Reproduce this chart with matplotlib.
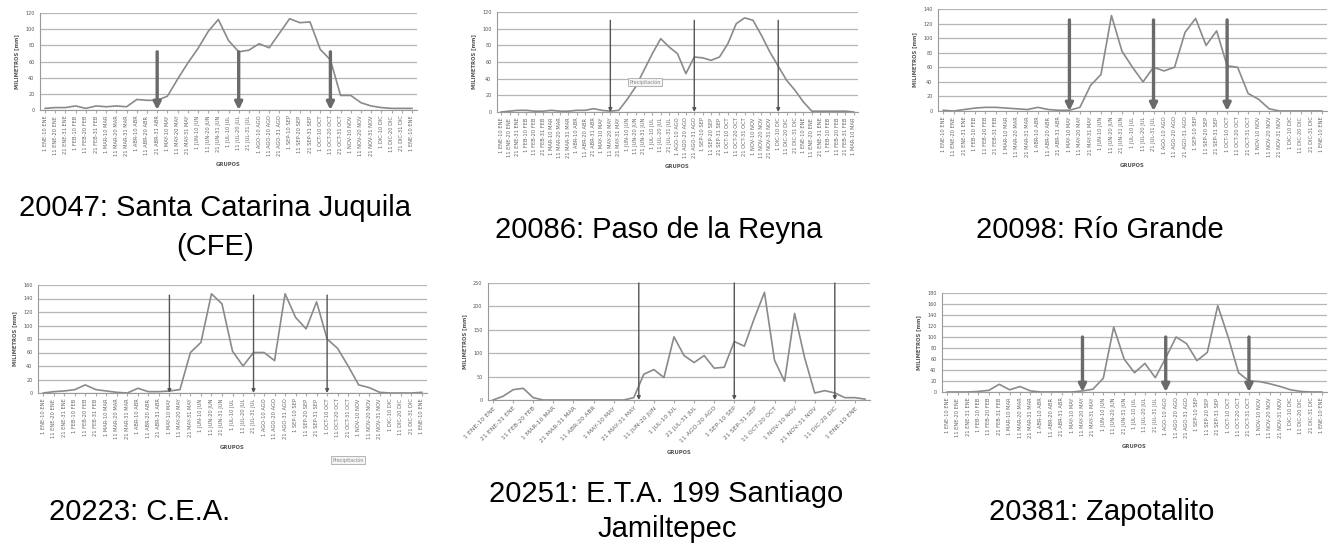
import matplotlib
matplotlib.use("Agg")
import matplotlib.pyplot as plt
import numpy as np

W, H = 1328, 557

# meses para las etiquetas de decenas
MESES = ["ENE", "FEB", "MAR", "ABR", "MAY", "JUN", "JUL", "AGO", "SEP", "OCT", "NOV", "DIC"]

# 20047: Santa Catarina Juquila (CFE)
juquila = [2, 3, 3, 5, 2, 5, 4, 5, 4, 13, 12, 12, 17, 38, 58, 76, 97, 112, 86,
           72, 74, 82, 77, 95, 113, 108, 109, 75, 62, 18, 18, 9, 5, 3, 2, 2, 2]
juquila_flechas = [11, 19, 28]

# 20086: Paso de la Reyna
reyna = [0, 1, 2, 2, 1, 1, 2, 1, 1, 2, 2, 4, 2, 1, 2, 15, 30, 50, 70, 88, 78, 70,
         46, 66, 65, 62, 66, 82, 106, 113, 110, 92, 72, 55, 38, 26, 12, 1, 1, 1,
         1, 1, 0]
reyna_flechas = [13, 23, 33]

# 20098: Rio Grande
rio_grande = [1, 0, 2, 4, 5, 5, 4, 3, 2, 5, 2, 1, 1, 5, 35, 50, 131, 82, 60, 40,
              60, 55, 60, 108, 127, 90, 110, 62, 60, 24, 16, 3, 0, 0, 0, 0, 0]
rio_grande_flechas = [12, 20, 27]

# 20223: C.E.A.
cea = [0, 2, 3, 5, 12, 5, 3, 1, 0, 7, 2, 2, 3, 5, 60, 75, 147, 132, 62, 40, 60,
       60, 48, 147, 112, 95, 135, 80, 66, 40, 12, 8, 1, 0, 0, 0, 1]
cea_flechas = [12, 20, 27]

# 20251: E.T.A. 199 Santiago Jamiltepec
jamiltepec = [0, 8, 22, 25, 5, 0, 0, 0, 0, 0, 0, 0, 0, 0, 5, 55, 65, 48, 135, 95,
              80, 95, 68, 70, 125, 115, 175, 230, 85, 40, 185, 90, 15, 20, 15, 5,
              5, 2]
jamiltepec_flechas = [14.5, 24, 34]

# 20381: Zapotalito
zapotalito = [0, 0, 0, 1, 3, 14, 4, 10, 2, 0, 0, 0, 0, 2, 5, 25, 118, 60, 35, 52,
              26, 62, 100, 88, 57, 72, 157, 100, 35, 20, 19, 15, 10, 4, 1, 0, 0]
zapotalito_flechas = [13, 21, 29]


def decenas(n):
    labels = []
    for k in range(n):
        mes = MESES[(k // 3) % 12]
        d1 = [1, 11, 21][k % 3]
        d2 = [10, 20, 31][k % 3]
        labels.append(str(d1) + " " + mes + "-" + str(d2) + " " + mes)
    return labels


def panel(fig, box, valores, ymax, ystep, flechas, ftop, gruesa, rot=90, cada=1):
    x0, y0, x1, y1 = box
    ax = fig.add_axes([x0 / W, 1 - y1 / H, (x1 - x0) / W, (y1 - y0) / H])
    n = len(valores)
    xs = np.arange(n)
    ax.plot(xs, valores, color="#8a8a8a", lw=1.2, zorder=3)
    ax.set_xlim(-0.5, n - 0.5)
    ax.set_ylim(0, ymax)
    ax.set_yticks(np.arange(0, ymax + 1, ystep))
    ax.yaxis.grid(True, color="#b5b5b5", lw=0.9)
    ax.set_axisbelow(True)
    for s in ["top", "right"]:
        ax.spines[s].set_visible(False)
    ax.spines["left"].set_color("#9a9a9a")
    ax.spines["bottom"].set_color("#9a9a9a")
    ax.tick_params(axis="y", labelsize=3.5, labelcolor="#555555", length=0, pad=4)
    etiquetas = decenas(n)
    ax.set_xticks(xs[::cada])
    if rot == 90:
        ax.set_xticklabels(etiquetas[::cada], rotation=90, fontsize=3.7, color="#666666")
    else:
        ax.set_xticklabels(etiquetas[::cada], rotation=45, ha="right",
                           rotation_mode="anchor", fontsize=4.4, color="#666666")
    ax.tick_params(axis="x", length=2, color="#aaaaaa", pad=2)
    ax.set_xlabel("GRUPOS", fontsize=3.8, color="#555555", fontweight="bold", labelpad=4)
    ax.set_ylabel("MILIMETROS [mm]", fontsize=3.8, color="#555555", fontweight="bold",
                  labelpad=4)
    for f in flechas:
        if gruesa:
            props = dict(arrowstyle="-|>", color="#6a6a6a", lw=2.4, mutation_scale=11,
                         shrinkA=0, shrinkB=0)
        else:
            props = dict(arrowstyle="-|>", color="#555555", lw=1.0, mutation_scale=5,
                         shrinkA=0, shrinkB=0)
        ax.annotate("", xy=(f, 0), xytext=(f, ftop), arrowprops=props, zorder=4)
    return ax


fig = plt.figure(figsize=(W / 100, H / 100), dpi=100)
fig.patch.set_facecolor("white")

panel(fig, (40, 13, 417, 110), juquila, 120, 20, juquila_flechas, 72, True)
panel(fig, (497, 12, 858, 112), reyna, 120, 20, reyna_flechas, 110, False)
panel(fig, (938, 9, 1327, 111), rio_grande, 140, 20, rio_grande_flechas, 125, True)
panel(fig, (38, 285, 427, 393), cea, 160, 20, cea_flechas, 145, False)
panel(fig, (488, 283, 870, 400), jamiltepec, 250, 50, jamiltepec_flechas, 250, False,
      rot=45, cada=2)
panel(fig, (942, 293, 1327, 392), zapotalito, 180, 20, zapotalito_flechas, 100, True)

# cuadros de texto pequenos
caja = dict(boxstyle="square,pad=0.3", fc="#f4f4f4", ec="#aaaaaa", lw=0.6)
fig.text(645 / W, 1 - 82 / H, "Precipitación", fontsize=3.5, color="#888888",
         ha="center", va="center", bbox=caja)
fig.text(348 / W, 1 - 460 / H, "Precipitación", fontsize=3.5, color="#888888",
         ha="center", va="center", bbox=caja)

# titulos de cada estacion
cap = dict(fontsize=21, family="Liberation Sans", ha="center", va="center", color="black")
fig.text(215 / W, 1 - 208 / H, "20047: Santa Catarina Juquila", **cap)
fig.text(215 / W, 1 - 247 / H, "(CFE)", **cap)
fig.text(659 / W, 1 - 230 / H, "20086: Paso de la Reyna", **cap)
fig.text(1100 / W, 1 - 230 / H, "20098: Río Grande", **cap)
fig.text(140 / W, 1 - 512 / H, "20223: C.E.A.", **cap)
fig.text(666 / W, 1 - 494 / H, "20251: E.T.A. 199 Santiago", **cap)
fig.text(667 / W, 1 - 529 / H, "Jamiltepec", **cap)
fig.text(1102 / W, 1 - 512 / H, "20381: Zapotalito", **cap)

fig.savefig("out.png", dpi=100)
